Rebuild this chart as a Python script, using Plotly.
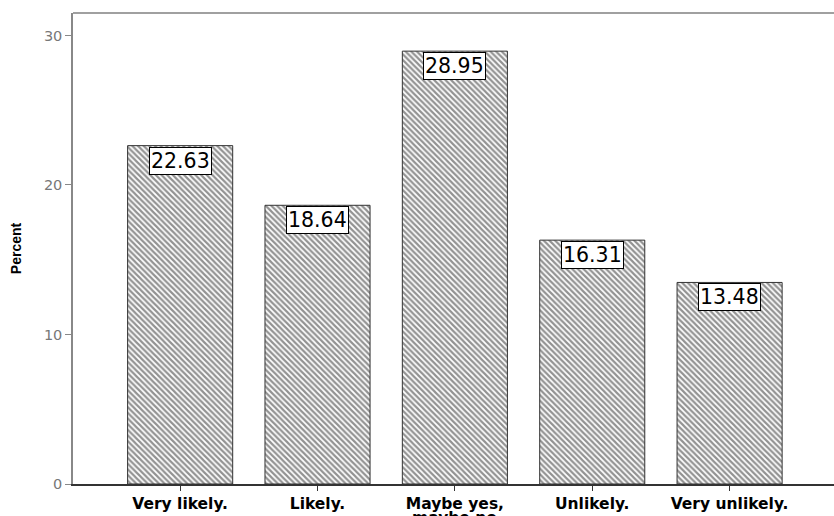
import plotly.graph_objects as go

categories = ["Very likely.", "Likely.", "Maybe yes,<br>maybe no", "Unlikely.", "Very unlikely."]
percents = [22.63, 18.64, 28.95, 16.31, 13.48]
y_ticks = [0, 10, 20, 30]

xs = list(range(len(categories)))
first_lines = [c.split("<br>")[0] for c in categories]
second_lines = [c.split("<br>")[1] if "<br>" in c else "" for c in categories]

fig = go.Figure()
fig.add_trace(go.Bar(
    x=xs, y=percents, width=0.765,
    marker=dict(
        color="white",
        line=dict(color="#333333", width=1),
        pattern=dict(shape="\\", size=4, solidity=0.55, fgcolor="#262626", bgcolor="white"),
    ),
    hoverinfo="skip",
))

for x, v in zip(xs, percents):
    fig.add_annotation(
        x=x, y=v, xref="x", yref="y", text=f"{v:.2f}", showarrow=False,
        yanchor="top", yshift=-1,
        font=dict(family="DejaVu Sans, sans-serif", size=20.5, color="black"),
        bgcolor="white", bordercolor="black", borderwidth=1, borderpad=1,
    )

# second line of wrapped category labels, tight line spacing as in the reference
for x, s in zip(xs, second_lines):
    if s:
        fig.add_annotation(
            x=x, y=0, xref="x", yref="paper", text=f"<b>{s}</b>", showarrow=False,
            yanchor="top", yshift=-24, borderpad=0,
            font=dict(family="DejaVu Sans, sans-serif", size=15.5, color="black"),
        )

fig.add_shape(type="line", xref="paper", yref="paper", x0=0, x1=1, y0=1, y1=1,
              line=dict(color="#a0a0a0", width=2))

fig.update_layout(
    width=834, height=516,
    margin=dict(l=73, r=0, t=13, b=32),
    plot_bgcolor="white", paper_bgcolor="white",
    showlegend=False,
    font=dict(family="DejaVu Sans, sans-serif"),
    xaxis=dict(
        range=[-0.78, 4.76], tickvals=xs, ticktext=first_lines, automargin=False,
        showline=True, linecolor="#333333", linewidth=1.5,
        ticks="outside", ticklen=5, tickcolor="#333333",
        tickfont=dict(size=15.5, color="black", family="DejaVu Sans, sans-serif", weight="bold"),
        showgrid=False, zeroline=False,
    ),
    yaxis=dict(
        range=[0, 31.5], tickvals=y_ticks, automargin=False,
        showline=True, linecolor="#888888", linewidth=1.5,
        ticks="outside", ticklen=6, tickcolor="#888888",
        tickfont=dict(size=14.5, color="#777777", family="DejaVu Sans, sans-serif"),
        showgrid=False, zeroline=False,
        title=dict(text="<b>Percent</b>", standoff=19,
                   font=dict(size=14, color="black", family="Liberation Sans Narrow, Arial Narrow, Liberation Sans, sans-serif")),
    ),
)

fig.write_html("out.html", config={"displayModeBar": False},
               post_script="document.body.style.margin='0';document.body.style.overflow='hidden';")
